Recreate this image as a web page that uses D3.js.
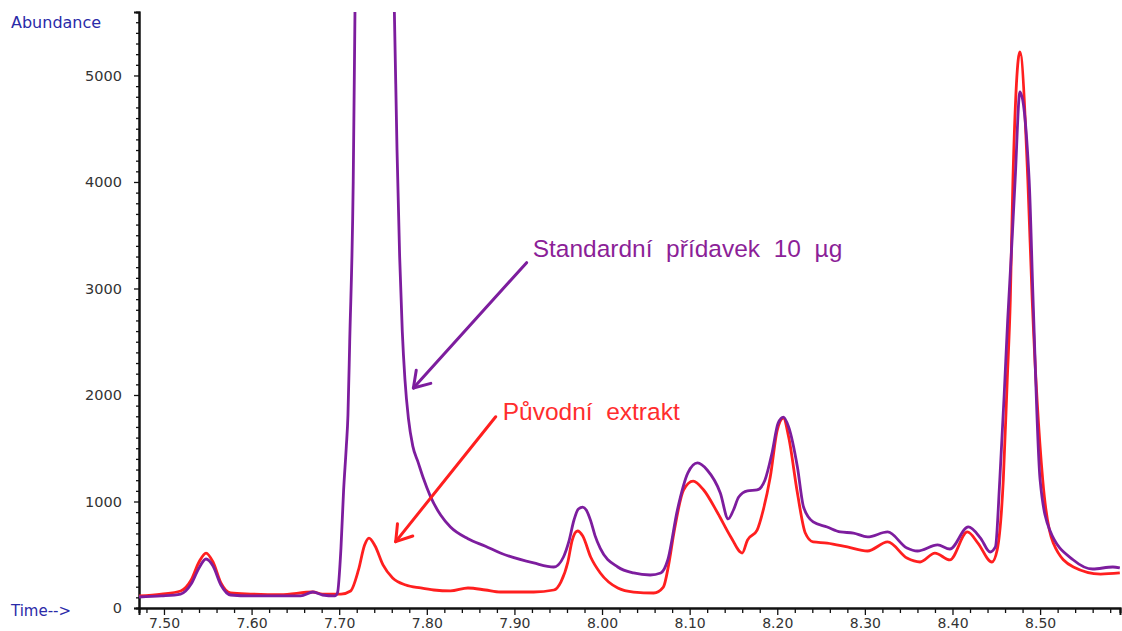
<!DOCTYPE html>
<html>
<head>
<meta charset="utf-8">
<script src="https://cdn.jsdelivr.net/npm/d3@7"></script>
<style>
  html, body { margin: 0; padding: 0; background: #fff; }
  svg { display: block; }
</style>
</head>
<body>
<svg id="chart" width="1122" height="631"></svg>
<script>
// Retention time (min) and abundance for the two chromatograms
const timeStd = [7.471, 7.497, 7.519, 7.531, 7.540, 7.548, 7.556, 7.565, 7.576, 7.599, 7.633, 7.656, 7.670, 7.681, 7.695,
  7.698, 7.702, 7.705, 7.708, 7.710, 7.712, 7.716, 7.718, 7.721, 7.729, 7.741, 7.753, 7.760, 7.763, 7.766, 7.769, 7.772,
  7.775, 7.779, 7.784, 7.790, 7.796, 7.804, 7.816, 7.827, 7.847, 7.867, 7.884, 7.922, 7.945, 7.956, 7.962, 7.968, 7.973,
  7.978, 7.982, 7.987, 7.992, 7.998, 8.018, 8.036, 8.055, 8.067, 8.075, 8.086, 8.098, 8.109, 8.120, 8.135, 8.144, 8.150,
  8.156, 8.166, 8.177, 8.186, 8.194, 8.201, 8.207, 8.213, 8.223, 8.230, 8.241, 8.257, 8.272, 8.287, 8.303, 8.326, 8.348,
  8.360, 8.383, 8.397, 8.418, 8.432, 8.443, 8.449, 8.454, 8.459, 8.463, 8.467, 8.4715, 8.477, 8.4875, 8.492, 8.500, 8.511,
  8.538, 8.560, 8.583, 8.591];
const abundStd = [103, 113, 131, 225, 376, 460, 394, 216, 122, 113, 113, 113, 150, 122, 113,
  141, 560, 1100, 1500, 1812, 2500, 4000, 5587, 7600, 9000, 9300, 8200, 6500, 5587, 4300, 3300, 2600,
  2150, 1780, 1520, 1370, 1220, 1050, 870, 760, 650, 580, 516, 423, 385, 479, 620, 826, 930,
  948, 920, 820, 680, 560, 385, 329, 310, 329, 451, 920, 1268, 1362, 1296, 1080, 836, 920,
  1042, 1099, 1108, 1202, 1455, 1737, 1793, 1700, 1324, 948, 808, 761, 714, 704, 667, 714, 563,
  535, 592, 554, 761, 657, 526, 573, 1202, 2000, 2700, 3300, 4019, 4845, 4019, 2892, 1202, 732,
  451, 366, 385, 376];

const timeExt = [7.471, 7.497, 7.519, 7.531, 7.540, 7.548, 7.556, 7.565, 7.576, 7.599, 7.633, 7.670, 7.681, 7.702,
  7.713, 7.722, 7.729, 7.734, 7.741, 7.750, 7.761, 7.776, 7.793, 7.808, 7.827, 7.847, 7.867, 7.884, 7.922, 7.945,
  7.953, 7.961, 7.966, 7.972, 7.978, 7.987, 7.998, 8.018, 8.036, 8.059, 8.070, 8.076, 8.082, 8.093, 8.104, 8.116,
  8.132, 8.147, 8.160, 8.166, 8.177, 8.184, 8.192, 8.200, 8.207, 8.213, 8.223, 8.232, 8.241, 8.257, 8.280, 8.303,
  8.326, 8.348, 8.363, 8.380, 8.397, 8.417, 8.429, 8.445, 8.451, 8.458, 8.4625, 8.466, 8.469, 8.477, 8.486, 8.491,
  8.503, 8.515, 8.538, 8.569, 8.591];
const abundExt = [113, 131, 160, 263, 432, 516, 432, 235, 141, 131, 125, 150, 131, 131,
  160, 357, 592, 657, 582, 404, 282, 216, 188, 169, 160, 188, 169, 150, 150, 169,
  244, 432, 638, 723, 676, 479, 329, 188, 150, 141, 197, 404, 704, 1108, 1192, 1108,
  892, 667, 516, 638, 732, 920, 1230, 1671, 1784, 1606, 1080, 704, 620, 610, 573, 535,
  620, 469, 432, 516, 451, 714, 610, 432, 545, 1202, 2141, 2892, 4019, 5221, 4019, 2892,
  1202, 610, 385, 319, 329];

const xTickValues = [7.50, 7.60, 7.70, 7.80, 7.90, 8.00, 8.10, 8.20, 8.30, 8.40, 8.50];
const yTickValues = [0, 1000, 2000, 3000, 4000, 5000];

// Annotation text and arrow ends (time, abundance)
const labelStd = "Standardní  přídavek  10  µg";
const labelExt = "Původní  extrakt";
const arrowStd = { from: [7.9139, 3242], to: [7.7847, 2066], text: [7.9208, 3296] };
const arrowExt = { from: [7.8786, 1796], to: [7.7645, 623], text: [7.8866, 1765] };

const colStd = "#7d1d9e";
const colStdText = "#8c1f98";
const colExt = "#ff1f1f";
const colExtText = "#ff2d2d";

const svg = d3.select("#chart");
const plotLeft = 139, plotRight = 1120, plotTop = 12, plotBottom = 608;

const x = d3.scaleLinear().domain([7.4715, 8.5912]).range([plotLeft, plotRight]);
const y = d3.scaleLinear().domain([0, 5596]).range([plotBottom, plotTop]);

svg.append("defs").append("clipPath").attr("id", "plotClip")
  .append("rect").attr("x", plotLeft).attr("y", plotTop)
  .attr("width", plotRight - plotLeft + 2).attr("height", plotBottom - plotTop);

// Axes
const minorX = d3.range(7.48, 8.59, 0.02).filter(v => !xTickValues.some(t => Math.abs(t - v) < 1e-6));
const minorY = d3.range(100, 5600, 100).filter(v => v % 1000 !== 0);

const xAxisG = svg.append("g").attr("transform", `translate(0,${plotBottom})`);
xAxisG.call(d3.axisBottom(x).tickValues(minorX).tickSize(5).tickFormat(""));
xAxisG.append("g").call(d3.axisBottom(x).tickValues(xTickValues).tickSize(7).tickPadding(3)
  .tickFormat(d3.format(".2f")));
xAxisG.selectAll(".domain").attr("stroke", "#111").attr("stroke-width", 2);
xAxisG.selectAll(".tick line").attr("stroke", "#111").attr("stroke-width", 1.3);
xAxisG.selectAll(".tick text").attr("font-family", "DejaVu Sans, sans-serif").attr("font-size", 14)
  .attr("fill", "#333").attr("dy", "0.7em");

const yAxisG = svg.append("g").attr("transform", `translate(${plotLeft},0)`);
yAxisG.call(d3.axisLeft(y).tickValues(minorY).tickSize(3).tickFormat(""));
yAxisG.append("g").call(d3.axisLeft(y).tickValues(yTickValues).tickSize(5).tickPadding(12).tickFormat(d3.format("d")));
yAxisG.selectAll(".domain").attr("stroke", "#111").attr("stroke-width", 2);
yAxisG.selectAll(".tick line").attr("stroke", "#111").attr("stroke-width", 1.3);
yAxisG.selectAll(".tick text").attr("font-family", "DejaVu Sans, sans-serif").attr("font-size", 14.5)
  .attr("fill", "#333");

// Axis titles
svg.append("text").attr("x", 11).attr("y", 28).text("Abundance")
  .attr("font-family", "DejaVu Sans, sans-serif").attr("font-size", 16).attr("fill", "#2a2aa8");
svg.append("text").attr("x", 11).attr("y", 616).text("Time-->")
  .attr("font-family", "DejaVu Sans, sans-serif").attr("font-size", 15).attr("fill", "#2a2aa8");

// Chromatogram traces
const line = d3.line().x(d => x(d[0])).y(d => y(d[1])).curve(d3.curveMonotoneX);
const plot = svg.append("g").attr("clip-path", "url(#plotClip)");

plot.append("path").datum(timeExt.map((t, i) => [t, abundExt[i]]))
  .attr("d", line).attr("fill", "none").attr("stroke", colExt).attr("stroke-width", 2.8)
  .attr("stroke-linejoin", "round");
plot.append("path").datum(timeStd.map((t, i) => [t, abundStd[i]]))
  .attr("d", line).attr("fill", "none").attr("stroke", colStd).attr("stroke-width", 2.8)
  .attr("stroke-linejoin", "round");

// Annotation arrows with open heads
function drawArrow(a, color) {
  const x1 = x(a.from[0]), y1 = y(a.from[1]);
  const x2 = x(a.to[0]), y2 = y(a.to[1]);
  const g = svg.append("g").attr("stroke", color).attr("stroke-width", 3).attr("stroke-linecap", "round")
    .attr("fill", "none");
  g.append("line").attr("x1", x1).attr("y1", y1).attr("x2", x2).attr("y2", y2);
  const ang = Math.atan2(y1 - y2, x1 - x2);
  const len = 18, spread = 33 * Math.PI / 180;
  [-spread, spread].forEach(s => {
    g.append("line").attr("x1", x2).attr("y1", y2)
      .attr("x2", x2 + len * Math.cos(ang + s)).attr("y2", y2 + len * Math.sin(ang + s));
  });
}
drawArrow(arrowStd, colStd);
drawArrow(arrowExt, colExt);

svg.append("text").attr("x", x(arrowStd.text[0])).attr("y", y(arrowStd.text[1]))
  .attr("font-family", "Liberation Sans, Arial, sans-serif").attr("font-size", 24.5)
  .attr("fill", colStdText).style("white-space", "pre").text(labelStd);
svg.append("text").attr("x", x(arrowExt.text[0])).attr("y", y(arrowExt.text[1]))
  .attr("font-family", "Liberation Sans, Arial, sans-serif").attr("font-size", 24.5)
  .attr("fill", colExtText).style("white-space", "pre").text(labelExt);
</script>
</body>
</html>
